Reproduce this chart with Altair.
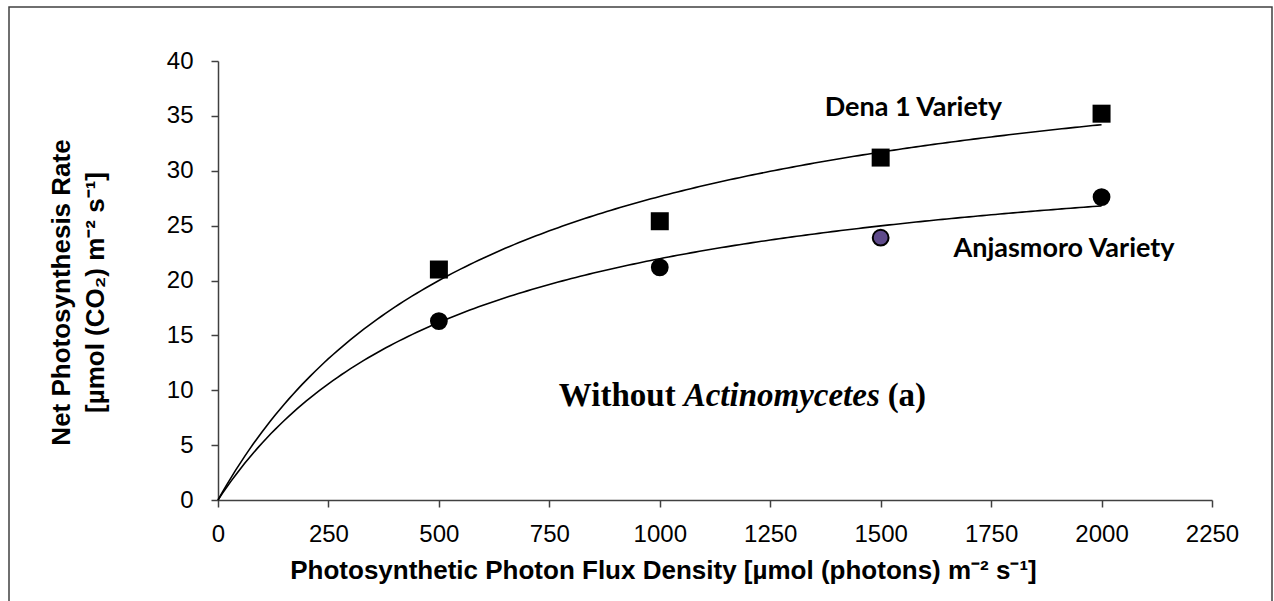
import altair as alt
import pandas as pd

# Measured net photosynthesis at each light level
ppfd = [500, 1000, 1500, 2000]
dena_rate = [21.0, 25.4, 31.2, 35.2]
anjasmoro_rate = [16.3, 21.2, 23.9, 27.6]

# Rectangular-hyperbola light-response fits: Pn = a * I / (b + I)
dena_a, dena_b = 44.8, 620
anj_a, anj_b = 34.3, 560

x_title = "Photosynthetic Photon Flux Density [µmol (photons) m⁻² s⁻¹]"
y_title = ["Net Photosynthesis Rate", "[µmol (CO₂) m⁻² s⁻¹]"]

AXIS_GREY = "#404040"
SANS = "Liberation Sans"

x_axis = alt.Axis(
    values=list(range(0, 2251, 250)), format="d", title=x_title, grid=False,
    labelFont=SANS, labelFontSize=24, labelColor="black", labelPadding=15,
    labelFlush=False, labelOverlap=False,
    tickSize=7, tickWidth=1.5, tickColor=AXIS_GREY,
    domainColor=AXIS_GREY, domainWidth=1.5,
    titleFont=SANS, titleFontSize=26, titleFontWeight="bold", titleColor="black",
    titleX=445, titleY=70, titleBaseline="middle", titleAlign="center",
)
y_axis = alt.Axis(
    values=list(range(0, 41, 5)), format="d", title=y_title, grid=False,
    labelFont=SANS, labelFontSize=24, labelColor="black", labelPadding=18,
    labelFlush=False, labelOverlap=False,
    tickSize=7, tickWidth=1.5, tickColor=AXIS_GREY,
    domainColor=AXIS_GREY, domainWidth=1.5,
    titleFont=SANS, titleFontSize=26, titleFontWeight="bold", titleColor="black",
    titleX=-157, titleY=231, titleBaseline="middle", titleAlign="center",
    titleAngle=270, titleLineHeight=34,
)

x_enc = alt.X("ppfd:Q", scale=alt.Scale(domain=[0, 2250], nice=False), axis=x_axis)
y_enc = alt.Y("rate:Q", scale=alt.Scale(domain=[0, 40], nice=False), axis=y_axis)

dena_df = pd.DataFrame({"ppfd": ppfd, "rate": dena_rate})
anj_df = pd.DataFrame({"ppfd": ppfd, "rate": anjasmoro_rate})

# Fitted response curves
curves = (
    alt.Chart(alt.sequence(0, 2001, 10, as_="ppfd"))
    .transform_calculate(
        dena=f"{dena_a} * datum.ppfd / ({dena_b} + datum.ppfd)",
        anjasmoro=f"{anj_a} * datum.ppfd / ({anj_b} + datum.ppfd)",
    )
    .transform_fold(["dena", "anjasmoro"], as_=["variety", "rate"])
    .mark_line(color="black", strokeWidth=1.6)
    .encode(x=x_enc, y=y_enc, detail="variety:N")
)

squares = (
    alt.Chart(dena_df)
    .mark_point(shape="square", filled=True, color="black", size=324, opacity=1)
    .encode(x=x_enc, y=y_enc)
)

circles = (
    alt.Chart(anj_df)
    .mark_point(shape="circle", filled=True, size=250, opacity=1,
                stroke="black", strokeWidth=2)
    .encode(
        x=x_enc, y=y_enc,
        fill=alt.condition(alt.datum.ppfd == 1500, alt.value("#5F4B8B"), alt.value("black")),
    )
)

# Series labels
labels_df = pd.DataFrame({
    "ppfd": [1574, 1915],
    "rate": [35.0, 22.1],
    "label": ["Dena 1 Variety", "Anjasmoro Variety"],
})
series_labels = (
    alt.Chart(labels_df)
    .mark_text(font="Lato", fontSize=27, fontWeight="bold", color="black",
               align="center", baseline="alphabetic")
    .encode(x=x_enc, y=y_enc, text="label:N")
)

# Panel caption "Without Actinomycetes (a)" with the genus in italics
caption_df = pd.DataFrame({"ppfd": [1054], "rate": [8.56]})
caption_base = alt.Chart(caption_df).encode(x=x_enc, y=y_enc)
caption_style = dict(font="Liberation Serif", fontSize=33, fontWeight="bold",
                     color="black", baseline="alphabetic")
cap_left = caption_base.mark_text(text="Without", align="right", dx=-8, **caption_style)
cap_mid = caption_base.mark_text(text="Actinomycetes", align="left", fontStyle="italic", **caption_style)
cap_right = caption_base.mark_text(text="(a)", align="left", dx=204, **caption_style)

# Outer border around the figure
frame = (
    alt.Chart(pd.DataFrame({"ppfd": [0], "rate": [0]}))
    .mark_rect(fill="transparent", stroke=AXIS_GREY, strokeWidth=1.5)
    .encode(x=alt.value(-209), x2=alt.value(1054), y=alt.value(-54), y2=alt.value(560))
)

chart = (
    alt.layer(frame, curves, squares, circles, series_labels, cap_left, cap_mid, cap_right)
    .properties(width=994, height=439, padding={"left": 218, "top": 61, "right": 62, "bottom": 101},
                autosize=alt.AutoSizeParams(type="none"), background="white")
    .configure_view(strokeWidth=0)
)

chart.save("out.html", embed_options={"renderer": "svg", "actions": False})
